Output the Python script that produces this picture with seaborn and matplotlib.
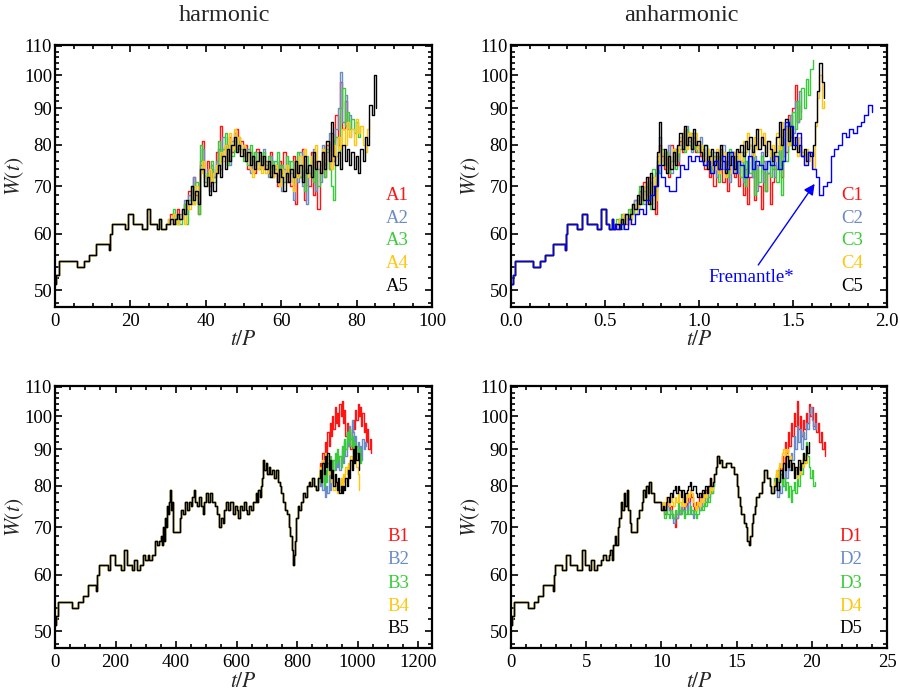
import numpy as np
import pandas as pd
import matplotlib
matplotlib.use("Agg")
import matplotlib.pyplot as plt
import seaborn as sns
from matplotlib.ticker import MultipleLocator, FixedLocator, NullFormatter, FixedFormatter, FormatStrFormatter

# ---------------- data ----------------
stair_W = [51, 52.5, 55, 54, 55, 56, 58, 57, 60, 62, 61, 64, 62, 61, 65, 62, 61, 63, 61, 62]
A_stair_t = [0, 0.3, 1.0, 5.8, 7.8, 9.0, 11.0, 14.2, 14.6, 15.2, 18.5, 19.3, 20.8, 23.0, 24.5, 25.3, 27.0, 27.6, 28.2, 29.4]
C_stair_t = [0, 0.01, 0.02, 0.115, 0.154, 0.18, 0.224, 0.285, 0.29, 0.30, 0.35, 0.376, 0.405, 0.457, 0.48, 0.505, 0.522, 0.535, 0.545, 0.552]
B_stair_t = [0, 3, 10, 55, 77, 93, 110, 136, 140, 144, 176, 182, 197, 219, 229, 238, 254, 262, 270, 282]
D_stair_t = [0, 0.08, 0.2, 1.1, 1.5, 1.8, 2.15, 2.78, 2.85, 2.95, 3.4, 3.65, 3.95, 4.4, 4.7, 4.9, 5.2, 5.35, 5.5, 5.75]

# harmonic, t/P in 0..100 (tails sampled every 0.6 from t=30)
A_tail_start, A_tail_dt = 30.0, 0.6
A1 = [62, 64, 62, 63, 65, 63, 64, 66, 65, 69, 67, 72, 68, 64, 75, 81, 72, 76, 70, 74, 72,
      78, 75, 85, 77, 80, 76, 82, 78, 80, 84, 79, 81, 77, 80, 74, 78, 76, 73, 79, 75, 77, 74,
      76, 73, 78, 72, 75, 70, 76, 73, 78, 71, 74, 70, 77, 66, 75, 72, 79, 67, 74, 70, 78, 68,
      76, 65, 73, 78, 72, 80, 74, 83, 76, 88, 80, 98, 84, 92, 86]
A2 = [63, 62, 64, 63, 62, 64, 65, 67, 64, 68, 66, 72, 69, 66, 76, 79, 71, 74, 69, 75, 72,
      76, 79, 74, 82, 77, 80, 75, 81, 83, 79, 81, 78, 80, 77, 79, 73, 77, 75, 78, 74, 76, 79,
      75, 72, 77, 73, 76, 71, 75, 69, 74, 72, 76, 73, 67, 76, 71, 78, 70, 74, 66, 75, 72, 79,
      69, 74, 71, 80, 75, 78, 83, 76, 81, 84, 90, 101, 86, 94, 84, 88, 82]
A3 = [62, 63, 65, 62, 64, 62, 64, 66, 62, 67, 70, 66, 71, 64, 80, 76, 70, 73, 72, 76, 71,
      74, 81, 76, 79, 83, 75, 80, 77, 81, 78, 82, 79, 76, 78, 75, 80, 76, 78, 74, 77, 75, 78,
      74, 77, 72, 76, 74, 78, 72, 75, 71, 77, 73, 76, 71, 74, 78, 72, 75, 69, 77, 73, 76, 71,
      74, 70, 75, 76, 72, 79, 74, 70, 67, 82, 78, 90, 96, 85, 89, 84, 87, 83, 86, 82, 85]
A4 = [63, 62, 64, 63, 62, 63, 64, 62, 66, 65, 68, 66, 70, 67, 73, 76, 72, 70, 74, 71, 73,
      75, 73, 78, 76, 80, 77, 83, 79, 84, 80, 82, 78, 80, 76, 78, 74, 72, 76, 74, 77, 73, 75,
      73, 76, 74, 72, 75, 73, 70, 74, 72, 75, 71, 74, 69, 76, 72, 77, 74, 79, 75, 72, 77, 74,
      80, 76, 73, 79, 76, 81, 78, 74, 80, 77, 82, 79, 84, 80, 86, 82, 84, 80, 87, 83, 85, 80,
      78, 84, 87]
A5 = [62, 63, 62, 63, 64, 63, 65, 64, 67, 66, 70, 67, 69, 66, 74, 74, 70, 72, 68, 71, 69,
      73, 75, 72, 77, 74, 79, 76, 80, 82, 78, 80, 77, 79, 76, 78, 75, 77, 74, 76, 78, 75, 77,
      74, 76, 72, 75, 73, 71, 74, 72, 69, 73, 71, 74, 72, 76, 73, 75, 71, 77, 73, 75, 72, 78,
      74, 76, 73, 78, 74, 81, 76, 86, 77, 75, 78, 74, 80, 76, 79, 75, 78, 74, 77, 73, 79, 76,
      82, 80, 91, 88, 100, 90]

# anharmonic, t/P in 0..2 (tails sampled every 0.012 from t=0.56)
C_tail_start, C_tail_dt = 0.56, 0.012
C1 = [61, 63, 62, 64, 62, 63, 65, 64, 67, 66, 69, 67, 71, 68, 72, 66, 70, 64, 75, 80, 77,
      74, 78, 72, 80, 76, 79, 75, 81, 78, 84, 80, 83, 79, 82, 78, 80, 77, 79, 74, 77, 72,
      75, 70, 77, 73, 79, 71, 76, 69, 74, 78, 72, 75, 70, 76, 68, 74, 66, 72, 78, 67, 75,
      70, 65, 76, 69, 73, 66, 71, 75, 74, 80, 72, 84, 78, 88, 82, 90, 97, 86, 91]
C2 = [62, 63, 61, 63, 64, 62, 64, 65, 67, 65, 68, 70, 66, 70, 67, 71, 68, 73, 77, 82, 76,
      78, 75, 80, 73, 77, 79, 76, 80, 83, 79, 85, 81, 78, 83, 80, 79, 82, 78, 75, 79, 76,
      74, 78, 72, 77, 75, 80, 73, 76, 71, 78, 74, 76, 73, 78, 71, 76, 74, 80, 72, 77, 69,
      75, 78, 71, 76, 73, 79, 74, 72, 78, 74, 82, 77, 85, 80, 88, 83, 92, 86, 95, 89]
C3 = [63, 62, 64, 62, 63, 65, 63, 66, 64, 67, 70, 66, 69, 67, 71, 65, 74, 69, 76, 73, 79,
      75, 78, 73, 76, 79, 74, 77, 79, 82, 78, 84, 80, 83, 79, 81, 78, 80, 77, 80, 75, 78,
      73, 77, 75, 71, 78, 74, 76, 72, 79, 75, 73, 77, 75, 72, 78, 70, 76, 73, 79, 68, 74,
      71, 77, 73, 69, 76, 72, 78, 74, 71, 80, 68, 84, 76, 86, 80, 89, 84, 92, 87, 96, 90,
      99, 94, 102, 105]
C4 = [62, 63, 62, 64, 63, 62, 63, 65, 66, 64, 68, 67, 70, 66, 71, 68, 72, 67, 74, 79, 76,
      78, 74, 77, 75, 79, 76, 78, 82, 80, 84, 79, 83, 81, 80, 83, 79, 80, 78, 76, 79, 75,
      77, 74, 79, 73, 76, 78, 72, 77, 75, 73, 78, 76, 79, 76, 81, 78, 83, 80, 77, 82, 79,
      84, 80, 83, 78, 81, 77, 80, 76, 83, 79, 86, 82, 84, 80, 85, 82, 80, 77, 82, 78, 75,
      79, 76, 78, 74, 85, 93, 100, 90, 92]
C5 = [62, 61, 63, 62, 64, 63, 64, 66, 65, 68, 66, 70, 67, 72, 66, 73, 65, 70, 78, 86, 75,
      79, 73, 77, 74, 78, 75, 80, 83, 79, 85, 80, 82, 79, 84, 80, 81, 78, 76, 80, 74, 77,
      79, 75, 78, 74, 80, 76, 73, 78, 75, 77, 74, 79, 78, 80, 77, 81, 79, 82, 78, 80, 84,
      79, 82, 80, 77, 81, 79, 76, 78, 82, 86, 80, 84, 87, 81, 85, 79, 82, 78, 80, 77, 79,
      76, 78, 77, 80, 86, 95, 104, 98, 93]
fremantle_start, fremantle_dt = 0.56, 0.02
fremantle = [61, 62, 61, 63, 62, 64, 65, 64, 67, 68, 70, 75, 72, 70, 69, 69, 72, 75, 74,
             77, 76, 77, 76, 75, 76, 73, 76, 74, 77, 74, 78, 73, 76, 75, 72, 77, 74, 76,
             75, 74, 76, 75, 77, 74, 76, 86, 85, 80, 83, 77, 75, 78, 74, 72, 68, 70, 71,
             77, 79, 80, 83, 82, 84, 83, 85, 86, 88, 91, 89]

# harmonic, t/P in 0..1250 (shared path, then tails every 4 from t=872)
B_mid_t = [290, 296, 306, 312, 322, 330, 338, 344, 350, 354, 358, 361, 364, 367, 370, 373, 376,
           380, 383, 386, 390, 412, 418, 424, 430, 436, 442, 448, 454, 460, 464, 470, 476, 482,
           488, 494, 500, 506, 512, 520, 528, 536, 542, 548, 554, 560, 566, 572, 580, 588, 594,
           600, 606, 612, 618, 624, 630, 636, 642, 648, 654, 660, 664, 668, 672, 676, 680, 684,
           688, 692, 696, 700, 706, 712, 718, 724, 730, 736, 742, 748, 754, 760, 766, 772, 778,
           782, 786, 790, 794, 798, 802, 808, 814, 820, 826, 832, 838, 844, 850, 856, 862, 868]
B_mid_W = [64, 63, 64, 63, 64, 67, 66, 67, 68, 66, 70, 67, 72, 70, 75, 73, 76,
           79, 74, 76, 69, 72, 74, 73, 76, 74, 76, 75, 77, 79, 76, 75, 77, 75,
           73, 76, 78, 76, 78, 76, 75, 73, 70, 72, 71, 74, 76, 74, 76, 73, 75,
           74, 72, 75, 74, 76, 74, 73, 75, 74, 76, 76, 78, 76, 79, 77, 80, 82,
           87, 84, 86, 83, 85, 83, 84, 82, 84, 81, 80, 78, 76, 74, 73, 70, 68,
           65, 62, 64, 67, 72, 75, 74, 76, 78, 77, 80, 81, 80, 82, 80, 79, 82]
B_tail_start, B_tail_dt = 872, 4
B1 = [82, 86, 84, 89, 86, 92, 89, 95, 91, 98, 94, 100, 96, 103, 98, 101, 97, 104, 100, 105,
      98, 102, 94, 98, 91, 96, 90, 95, 99, 96, 102, 99, 104, 100, 103, 97, 101, 95, 98, 92,
      96, 90, 93, 89]
B2 = [82, 80, 84, 79, 82, 77, 80, 78, 83, 79, 85, 81, 87, 84, 89, 85, 88, 84, 87, 90, 86, 92,
      88, 95, 91, 97, 93, 99, 95, 91, 94, 89, 92, 88, 91, 87, 93, 90, 92, 91]
B3 = [81, 84, 82, 86, 80, 84, 81, 86, 83, 88, 85, 87, 84, 89, 86, 90, 87, 88, 85, 91, 88, 93,
      90, 95, 92, 96, 91, 94, 89, 92, 88, 91, 87, 90, 86, 88]
B4 = [83, 85, 82, 87, 84, 89, 86, 88, 83, 86, 81, 83, 79, 82, 80, 78, 81, 79, 82, 80, 83, 81,
      85, 83, 86, 84, 88, 85, 90, 87, 89, 85, 83, 79]
B5 = [82, 84, 81, 86, 83, 88, 85, 89, 84, 87, 82, 84, 80, 83, 81, 79, 82, 78, 80, 78, 80, 79,
      82, 80, 84, 82, 87, 84, 90, 86, 91, 87, 89, 84]

# anharmonic, t/P in 0..25: shared path (6.0-9.9), per-series segment (10.0-13.4, every 0.1),
# shared path (13.5-17.3), per-series tails (every 0.1 from 17.5)
D_mid1_t = [6.0, 6.1, 6.3, 6.5, 6.6, 6.7, 6.8, 6.9, 7.0, 7.1, 7.2, 7.3, 7.4, 7.5, 7.6, 7.7, 7.8,
            7.9, 8.0, 8.4, 8.5, 8.7, 8.8, 8.9, 9.0, 9.1, 9.2, 9.3, 9.5, 9.8]
D_mid1_W = [63, 64, 63, 64, 65, 63, 66, 68, 66, 70, 72, 76, 74, 78, 75, 79, 74,
            71, 69, 72, 74, 76, 79, 77, 80, 78, 81, 78, 76, 76]
D_seg_start, D_seg_dt = 10.0, 0.1
D1_seg = [74, 75, 73, 75, 76, 74, 75, 73, 72, 70, 72, 74, 73, 75, 74, 76, 75, 77, 76, 78, 77,
          75, 74, 76, 75, 77, 76, 78, 77, 79, 78, 80, 82, 80, 81]
D2_seg = [74, 75, 74, 73, 75, 74, 73, 72, 71, 73, 72, 74, 73, 75, 74, 73, 75, 74, 76, 74, 73,
          72, 73, 74, 75, 74, 76, 75, 77, 76, 78, 77, 79, 78, 80]
D3_seg = [75, 74, 72, 74, 73, 72, 74, 73, 72, 74, 73, 76, 74, 73, 74, 72, 73, 74, 73, 75, 74,
          73, 74, 72, 73, 74, 75, 74, 76, 75, 77, 76, 80, 78, 80]
D4_seg = [75, 76, 75, 77, 76, 75, 77, 76, 75, 77, 76, 78, 76, 75, 77, 75, 76, 78, 77, 79, 78,
          76, 75, 74, 76, 75, 77, 76, 78, 77, 79, 78, 80, 79, 81]
D5_seg = [74, 75, 74, 76, 77, 76, 78, 77, 79, 80, 78, 80, 79, 77, 79, 76, 78, 79, 80, 81, 79,
          80, 80, 78, 77, 78, 77, 79, 78, 80, 78, 80, 82, 80, 81]
D_mid2_t = [13.5, 13.6, 13.7, 13.8, 13.9, 14.0, 14.3, 14.6, 14.8, 15.0, 15.1, 15.2, 15.3, 15.5,
            15.6, 15.7, 15.8, 15.9, 16.0, 16.1, 16.2, 16.3, 16.5, 16.7, 16.8, 17.0, 17.2, 17.3]
D_mid2_W = [83, 85, 88, 86, 87, 85, 86, 85, 83, 80, 77, 75, 73, 71,
            70, 67, 66, 68, 71, 73, 75, 77, 78, 81, 84, 82, 80, 78]
D_tail_start, D_tail_dt = 17.5, 0.1
D1 = [80, 83, 81, 85, 84, 88, 86, 92, 89, 95, 91, 98, 94, 101, 97, 105, 96, 100, 94, 99, 96,
      101, 98, 104, 100, 103, 97, 101, 95, 98, 92, 95, 90, 92, 88]
D2 = [79, 81, 77, 80, 78, 82, 80, 84, 82, 86, 84, 89, 87, 94, 90, 97, 92, 96, 90, 95, 93, 98,
      96, 101, 103, 99, 96, 98, 96]
D3 = [82, 80, 84, 81, 83, 80, 82, 79, 81, 77, 80, 76, 79, 81, 78, 83, 80, 86, 83, 89, 86, 92,
      88, 85, 82, 84, 80, 81]
D4 = [81, 84, 82, 86, 85, 89, 90, 88, 90, 87, 88, 85, 86, 83, 84, 82, 85, 83, 87, 85, 88, 86, 88]
D5 = [80, 82, 79, 81, 84, 82, 86, 84, 88, 85, 87, 84, 86, 82, 85, 83, 87, 84, 86, 89, 87, 91,
      89, 92]

y_ticks = [50, 60, 70, 80, 90, 100, 110]
colors = ["#FF1414", "#6A8CC6", "#3ACB3A", "#FFC60A", "#000000"]
fremantle_color = "#0000FF"

# ---------------- style ----------------
sns.set_style("ticks")
plt.rcParams["font.family"] = ["Liberation Serif", "DejaVu Serif"]
plt.rcParams["mathtext.fontset"] = "stix"

fig = plt.figure(figsize=(9, 6.98), dpi=100)
W_, H_ = 900.0, 698.0


def rect(l, t, r, b):
    return [l / W_, 1 - b / H_, (r - l) / W_, (b - t) / H_]


axA = fig.add_axes(rect(55, 45, 432, 307))
axC = fig.add_axes(rect(511, 45, 887, 307))
axB = fig.add_axes(rect(55, 386, 432, 648))
axD = fig.add_axes(rect(511, 386, 887, 648))


def grid(start, dt, vals):
    return list(start + dt * np.arange(len(vals)))


def build(names, tails, stair_t, tail_start, dt, pieces=None):
    """pieces: list of (t_list, W_list) shared by all series, or per-series lists."""
    frames = []
    for k, (name, vals) in enumerate(zip(names, tails)):
        t = list(stair_t)
        w = list(stair_W)
        for p in (pieces or []):
            pt, pw = p(k)
            t += list(pt)
            w += list(pw)
        t += grid(tail_start, dt, vals)
        w += list(vals)
        frames.append(pd.DataFrame({"t": t, "W": w, "series": name}))
    return pd.concat(frames, ignore_index=True)


def draw(ax, df, names):
    sns.lineplot(data=df, x="t", y="W", hue="series", hue_order=names,
                 palette=dict(zip(names, colors)), estimator=None, sort=False,
                 drawstyle="steps-post", legend=False, ax=ax, linewidth=1.0)


def fmt(ax, xmax, xmaj, xmin, xfmt, xlab_y):
    ax.set_yscale("log")
    ax.set_ylim(47.4, 110.3)
    ax.set_xlim(0, xmax)
    ax.yaxis.set_major_locator(FixedLocator(y_ticks))
    ax.yaxis.set_major_formatter(FixedFormatter([str(v) for v in y_ticks]))
    ax.yaxis.set_minor_locator(FixedLocator(list(range(48, 111, 2))))
    ax.yaxis.set_minor_formatter(NullFormatter())
    ax.xaxis.set_major_locator(MultipleLocator(xmaj))
    ax.xaxis.set_minor_locator(MultipleLocator(xmin))
    ax.xaxis.set_major_formatter(FormatStrFormatter(xfmt))
    ax.tick_params(which="both", direction="in", top=True, right=True, width=1.2,
                   labelsize=13.5, colors="black")
    ax.tick_params(which="major", length=5)
    ax.tick_params(which="minor", length=3)
    ax.tick_params(axis="y", which="both", pad=2)
    ax.tick_params(axis="x", which="both", pad=4.5)
    for s in ax.spines.values():
        s.set_linewidth(1.6)
        s.set_color("black")
    ax.set_xlabel("$t/P$", fontsize=15.5)
    ax.set_ylabel("$W(t)$", fontsize=15.5)
    ax.xaxis.set_label_coords(0.5, xlab_y)
    ax.yaxis.set_label_coords(-0.078, 0.5)


def legend_text(ax, names, xr, ys):
    for name, c, y in zip(names, colors, ys):
        ax.text(xr, y, name, color=c, ha="right", va="center", fontsize=13.5,
                transform=ax.transAxes)


namesA = ["A1", "A2", "A3", "A4", "A5"]
namesB = ["B1", "B2", "B3", "B4", "B5"]
namesC = ["C1", "C2", "C3", "C4", "C5"]
namesD = ["D1", "D2", "D3", "D4", "D5"]

draw(axA, build(namesA, [A1, A2, A3, A4, A5], A_stair_t, A_tail_start, A_tail_dt), namesA)
draw(axC, build(namesC, [C1, C2, C3, C4, C5], C_stair_t, C_tail_start, C_tail_dt), namesC)
fr = build(["Fremantle*"], [fremantle], C_stair_t, fremantle_start, fremantle_dt)
sns.lineplot(data=fr, x="t", y="W", estimator=None, sort=False, drawstyle="steps-post",
             color=fremantle_color, linewidth=1.0, ax=axC, legend=False)
draw(axB, build(namesB, [B1, B2, B3, B4, B5], B_stair_t, B_tail_start, B_tail_dt,
                [lambda k: (B_mid_t, B_mid_W)]), namesB)
D_segs = [D1_seg, D2_seg, D3_seg, D4_seg, D5_seg]
draw(axD, build(namesD, [D1, D2, D3, D4, D5], D_stair_t, D_tail_start, D_tail_dt,
                [lambda k: (D_mid1_t, D_mid1_W),
                 lambda k: (grid(D_seg_start, D_seg_dt, D_segs[k]), D_segs[k]),
                 lambda k: (D_mid2_t, D_mid2_W)]), namesD)

fmt(axA, 100, 20, 5, "%d", -0.09)
fmt(axC, 2.0, 0.5, 0.1, "%.1f", -0.09)
fmt(axB, 1246, 200, 50, "%d", -0.095)
fmt(axD, 25, 5, 1, "%d", -0.095)

legend_text(axA, namesA, 0.939, [0.427, 0.338, 0.252, 0.167, 0.080])
legend_text(axC, namesC, 0.936, [0.427, 0.338, 0.252, 0.167, 0.080])
legend_text(axB, namesB, 0.939, [0.424, 0.336, 0.248, 0.158, 0.073])
legend_text(axD, namesD, 0.934, [0.424, 0.336, 0.248, 0.158, 0.073])

axC.annotate("Fremantle*", xy=(1.615, 70.5), xycoords="data",
             xytext=(0.638, 0.111), textcoords="axes fraction",
             ha="center", va="center", fontsize=13.5, color=fremantle_color,
             arrowprops=dict(arrowstyle="-|>", color=fremantle_color, lw=1.0,
                             mutation_scale=16, shrinkA=1, shrinkB=0,
                             relpos=(0.55, 1.0)))

fig.text(225 / W_, 1 - 21 / H_, "harmonic", ha="center", va="baseline", fontsize=17.5)
fig.text(681 / W_, 1 - 21 / H_, "anharmonic", ha="center", va="baseline", fontsize=17.5)

fig.savefig("out.png", dpi=100)
